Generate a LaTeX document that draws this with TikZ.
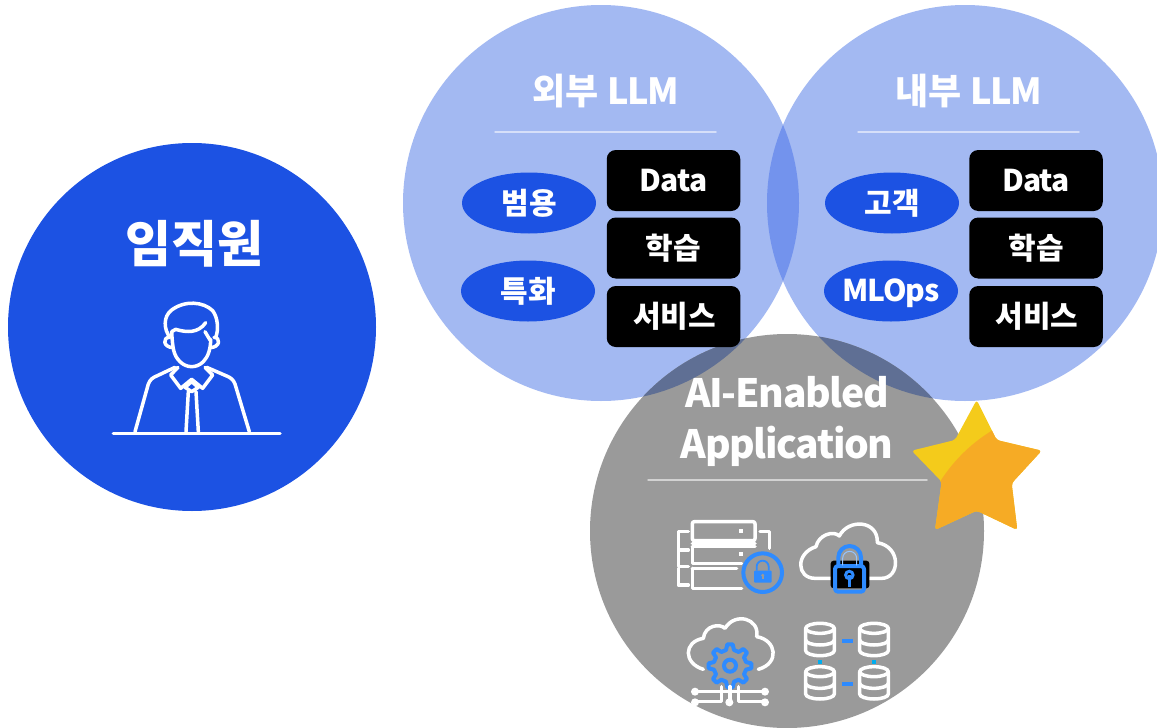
\documentclass[tikz,border=0pt]{standalone}
\usepackage{fontspec}
\setmainfont{Noto Sans CJK KR}
\usetikzlibrary{shapes.geometric}
\definecolor{deep}{HTML}{1C52E3}
\definecolor{pale}{HTML}{A3B9F2}
\definecolor{lens}{HTML}{7393ED}
\definecolor{stone}{HTML}{9A9A9A}
\definecolor{slate}{HTML}{5F6F94}
\definecolor{iconblue}{HTML}{2E8BFF}
\definecolor{sun}{HTML}{F4CB1B}
\definecolor{amber}{HTML}{F6AB25}
\newcommand{\tightlatin}[2]{{\addfontfeatures{LetterSpace=#1}#2}}
\tikzset{
  heading/.style={text=white,font=\fontsize{36}{36}\selectfont\bfseries,inner sep=0pt},
  blackbox/.style={fill=black,rounded corners=9pt,minimum width=133.5pt,minimum height=61pt,inner sep=0pt,text=white,font=\fontsize{30}{30}\selectfont\bfseries},
  pill/.style={ellipse,fill=deep,minimum width=134pt,minimum height=61pt,inner sep=0pt,text=white,font=\fontsize{30}{30}\selectfont\bfseries},
  rulewhite/.style={line width=1.5pt,line cap=round},
  ico/.style={draw=white,line width=3.5pt,line cap=round,line join=round},
  icob/.style={draw=iconblue,line width=4pt,line join=round},
  zoomA/.style={shift={(90,280)},x=0.33333pt,y=-0.33333pt},
  zoomB/.style={shift={(660,500)},x=0.33333pt,y=-0.33333pt},
  zoomC/.style={shift={(880,380)},x=0.33333pt,y=-0.33333pt},
}
\newcommand{\dbcyl}[2]{%
  \draw[ico] (#1-43,#2-35) arc[x radius=43,y radius=15,start angle=180,end angle=-180];
  \draw[ico] (#1-43,#2-35) -- (#1-43,#2+32) arc[x radius=43,y radius=15,start angle=180,end angle=0] -- (#1+43,#2-35);
  \draw[ico] (#1-43,#2) arc[x radius=43,y radius=15,start angle=180,end angle=0];
}
\begin{document}
\begin{tikzpicture}[x=1pt,y=-1pt]
\useasboundingbox (0,0) rectangle (1157,728);
\clip (0,0) rectangle (1157,728);
% circles
\fill[deep] (192,327) circle[radius=184];
\fill[pale] (601,203) circle[radius=198];
\fill[pale] (965,203) circle[radius=198];
\begin{scope}
  \clip (601,203) circle[radius=198];
  \fill[lens] (965,203) circle[radius=198];
\end{scope}
\fill[stone] (787,531) circle[radius=197];
\begin{scope}
  \clip (787,531) circle[radius=197];
  \fill[slate] (601,203) circle[radius=198];
  \fill[slate] (965,203) circle[radius=198];
\end{scope}
% left circle
\node[text=white,font=\fontsize{50}{50}\selectfont\bfseries,inner sep=0pt] (staff) at (194,244) {임직원};
\begin{scope}[zoomA]
  \draw[ico] (240,172) .. controls (222,150) and (218,110) .. (245,90) .. controls (285,60) and (340,65) .. (368,92) .. controls (385,115) and (385,150) .. (378,170);
  \draw[ico] (245,155) .. controls (248,205) and (250,225) .. (270,245) .. controls (290,265) and (320,265) .. (340,245) .. controls (355,230) and (362,205) .. (362,178);
  \draw[ico] (245,155) -- (257,148) .. controls (290,158) and (325,160) .. (347,128);
  \draw[ico] (345,155) -- (360,180);
  \draw[ico] (238,172) .. controls (218,172) and (218,202) .. (250,203);
  \draw[ico] (372,172) .. controls (392,172) and (392,202) .. (360,203);
  \draw[ico] (135,455) -- (175,312) .. controls (180,298) and (190,292) .. (200,288) -- (255,262);
  \draw[ico] (478,455) -- (435,312) .. controls (430,298) and (420,292) .. (410,288) -- (350,262);
  \draw[ico] (264,262) -- (242,285) -- (272,325) -- (305,298) -- (338,325) -- (368,285) -- (345,262);
  \draw[ico] (305,305) -- (285,322) -- (305,335) -- (325,322) -- cycle;
  \draw[ico] (288,455) -- (295,335);
  \draw[ico] (325,455) -- (318,335);
  \draw[ico] (70,460) -- (570,460);
\end{scope}
% LLM circles
\node[heading] (extllm) at (606,91) {외부 \tightlatin{-3}{LLM}};
\node[heading] (intllm) at (969,91) {내부 \tightlatin{-3}{LLM}};
\coordinate (la) at (495,132); \coordinate (lb) at (716,132);
\coordinate (lc) at (858,132); \coordinate (ld) at (1079,132);
\draw[rulewhite,draw=white!55!pale] (la) -- (lb);
\draw[rulewhite,draw=white!55!pale] (lc) -- (ld);
\node[blackbox] (ed) at (673.5,180.5) {\tightlatin{-3}{Data}};
\node[blackbox] (el) at (673.5,248) {학습};
\node[blackbox] (es) at (673.5,316.5) {\hspace{2pt}\tightlatin{-1}{서비스}};
\node[blackbox] (id) at (1036,180.5) {\tightlatin{-3}{Data}};
\node[blackbox] (il) at (1036,248) {학습};
\node[blackbox] (is) at (1036,316.5) {\hspace{2pt}\tightlatin{-1}{서비스}};
\node[pill] (p1) at (529,203) {범용};
\node[pill] (p2) at (528,291) {특화};
\node[pill] (p3) at (892,203) {고객};
\node[pill] (p4) at (891,291) {\makebox[0pt]{\raisebox{0pt}[20pt][0pt]{\tightlatin{-3}{MLOps}}}};
% application
\node[text=white,font=\fontsize{39}{39}\selectfont\bfseries,inner sep=0pt] (ai1) at (787,392) {\tightlatin{-3.5}{AI-Enabled}};
\node[text=white,font=\fontsize{39}{39}\selectfont\bfseries,inner sep=0pt] (ai2) at (787,446) {\tightlatin{-3.5}{Application}};
\coordinate (le) at (648,480); \coordinate (lf) at (927,480);
\draw[rulewhite,draw=white!55!stone] (le) -- (lf);
% star
\begin{scope}[zoomC]
  \fill[sun,rounded corners=3pt] (290,60) -- (350,180) -- (485,212) -- (395,310) -- (412,450) -- (290,392) -- (165,450) -- (185,305) -- (95,212) -- (225,180) -- cycle;
  \begin{scope}
    \clip[rounded corners=3pt] (290,60) -- (350,180) -- (485,212) -- (395,310) -- (412,450) -- (290,392) -- (165,450) -- (185,305) -- (95,212) -- (225,180) -- cycle;
    \fill[amber] (342,148) .. controls (280,185) and (225,235) .. (180,305) -- (120,480) -- (520,480) -- (520,120) -- cycle;
  \end{scope}
\end{scope}
% icons
\begin{scope}[zoomB]
  % server + lock
  \draw[ico,rounded corners=2pt] (97,65) rectangle (285,122);
  \draw[ico] (97,140) -- (97,190) -- (245,190);
  \draw[ico] (97,140) -- (285,140);
  \draw[ico] (97,130) -- (285,130);
  \draw[ico] (97,205) -- (97,265) -- (245,265);
  \draw[ico] (97,205) -- (230,205);
  \draw[ico] (85,95) -- (55,95) -- (55,150) -- (85,150);
  \draw[ico] (55,150) -- (55,200) -- (85,200);
  \draw[ico] (55,205) -- (55,255) -- (85,255);
  \draw[ico] (300,95) -- (328,95) -- (328,145);
  \fill[white] (238,86) rectangle (248,98);
  \fill[white] (238,156) rectangle (248,168);
  \fill[stone] (308,218) circle[radius=58];
  \draw[iconblue,line width=4pt] (308,218) circle[radius=58];
  \fill[iconblue,rounded corners=1pt] (282,212) rectangle (335,248);
  \draw[iconblue,line width=1.8pt] (290,212) -- (290,200) arc[radius=18,start angle=180,end angle=360] -- (326,212);
  \fill[stone] (308,226) circle[radius=5];
  \fill[stone] (305,226) rectangle (311,238);
  % cloud + lock
  \draw[ico] (515,235) -- (465,235) .. controls (410,235) and (405,160) .. (468,140) .. controls (475,105) and (520,90) .. (538,108) .. controls (565,55) and (655,60) .. (652,128) .. controls (725,140) and (720,235) .. (665,235) -- (622,235);
  \fill[black,rounded corners=3pt] (512,182) rectangle (628,265);
  \draw[icob,rounded corners=3pt] (525,198) rectangle (612,275);
  \draw[icob] (535,196) -- (535,172) arc[radius=34,start angle=180,end angle=360] -- (603,196);
  \draw[white!50!iconblue,line width=1pt] (548,196) -- (548,175) arc[radius=21,start angle=180,end angle=360] -- (590,196);
  \fill[iconblue] (568,225) circle[radius=16];
  \fill[black] (568,225) circle[radius=6];
  \fill[iconblue] (563,225) rectangle (573,262);
  % cloud + gear
  \draw[ico] (130,508) .. controls (70,490) and (70,425) .. (130,415) .. controls (135,375) and (180,370) .. (195,385) .. controls (225,335) and (300,355) .. (290,410) .. controls (350,420) and (360,490) .. (295,508);
  \fill[stone] (210,497) circle[radius=60];
  \draw[iconblue,line width=4pt,line join=round] (202,433) -- (218,433) -- (222,450) -- (236,456) -- (250,447) -- (261,458) -- (252,472) -- (258,486) -- (274,490) -- (274,505) -- (258,509) -- (252,523) -- (261,537) -- (250,548) -- (236,539) -- (222,545) -- (218,562) -- (202,562) -- (198,545) -- (184,539) -- (170,548) -- (159,537) -- (168,523) -- (162,509) -- (146,505) -- (146,490) -- (162,486) -- (168,472) -- (159,458) -- (170,447) -- (184,456) -- (198,450) -- cycle;
  \draw[iconblue,line width=4pt] (210,497) circle[radius=18];
  \draw[ico] (105,575) -- (315,575);
  \draw[ico] (105,605) -- (185,605) -- (185,560);
  \draw[ico] (210,605) -- (210,560);
  \draw[ico] (315,605) -- (235,605) -- (235,560);
  \foreach \px/\py in {105/575,315/575,105/607,208/607,315/607} \fill[white] (\px,\py) circle[radius=12];
  % databases
  \dbcyl{480}{420}
  \dbcyl{642}{420}
  \dbcyl{480}{550}
  \dbcyl{642}{550}
  \fill[iconblue] (545,416) rectangle (578,428);
  \fill[iconblue] (545,547) rectangle (578,559);
  \fill[cyan] (474,479) rectangle (486,491);
  \fill[cyan] (636,479) rectangle (648,491);
\end{scope}
\end{tikzpicture}
\end{document}
